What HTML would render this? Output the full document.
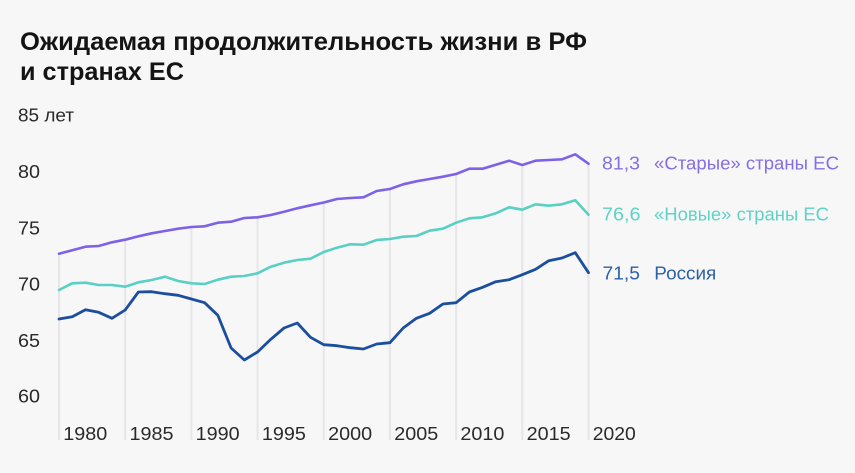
<!DOCTYPE html>
<html>
<head>
<meta charset="utf-8">
<style>
html,body{margin:0;padding:0;background:#f7f7f8;}
svg{display:block;}
text{font-family:"Liberation Sans","DejaVu Sans",sans-serif;}
</style>
</head>
<body>
<svg width="855" height="473" viewBox="0 0 855 473" xmlns="http://www.w3.org/2000/svg">
<rect x="0" y="0" width="855" height="473" fill="#f7f7f8"/>
<!-- title -->
<text x="20" y="50" font-size="25" font-weight="bold" fill="#141414" textLength="567" lengthAdjust="spacingAndGlyphs">Ожидаемая продолжительность жизни в РФ</text>
<text x="20" y="80" font-size="25" font-weight="bold" fill="#141414" textLength="164" lengthAdjust="spacingAndGlyphs">и странах ЕС</text>

<!-- y tick labels -->
<g font-size="18" fill="#2a2a2a">
<text x="18" y="121.5" textLength="56" lengthAdjust="spacingAndGlyphs">85 лет</text>
<text x="18" y="178" textLength="22" lengthAdjust="spacingAndGlyphs">80</text>
<text x="18" y="234.5" textLength="22" lengthAdjust="spacingAndGlyphs">75</text>
<text x="18" y="290.7" textLength="22" lengthAdjust="spacingAndGlyphs">70</text>
<text x="18" y="346.8" textLength="22" lengthAdjust="spacingAndGlyphs">65</text>
<text x="18" y="402.7" textLength="22" lengthAdjust="spacingAndGlyphs">60</text>
</g>

<!-- gridlines -->
<g stroke="#e6e6e8" stroke-width="2">
<line x1="59" y1="254" x2="59" y2="440"/>
<line x1="125.19" y1="240" x2="125.19" y2="440"/>
<line x1="191.38" y1="227" x2="191.38" y2="440"/>
<line x1="257.56" y1="217.5" x2="257.56" y2="440"/>
<line x1="323.75" y1="202.5" x2="323.75" y2="440"/>
<line x1="389.94" y1="189" x2="389.94" y2="440"/>
<line x1="456.13" y1="174" x2="456.13" y2="440"/>
<line x1="522.31" y1="165" x2="522.31" y2="440"/>
<line x1="588.5" y1="164" x2="588.5" y2="440"/>
</g>

<!-- x labels -->
<g font-size="18" fill="#2a2a2a">
<text x="63.3" y="440" textLength="44" lengthAdjust="spacingAndGlyphs">1980</text>
<text x="129.5" y="440" textLength="44" lengthAdjust="spacingAndGlyphs">1985</text>
<text x="195.7" y="440" textLength="44" lengthAdjust="spacingAndGlyphs">1990</text>
<text x="261.9" y="440" textLength="44" lengthAdjust="spacingAndGlyphs">1995</text>
<text x="328.1" y="440" textLength="44" lengthAdjust="spacingAndGlyphs">2000</text>
<text x="394.3" y="440" textLength="44" lengthAdjust="spacingAndGlyphs">2005</text>
<text x="460.4" y="440" textLength="44" lengthAdjust="spacingAndGlyphs">2010</text>
<text x="526.6" y="440" textLength="44" lengthAdjust="spacingAndGlyphs">2015</text>
<text x="592.8" y="440" textLength="43" lengthAdjust="spacingAndGlyphs">2020</text>
</g>

<!-- series -->
<g fill="none" stroke-width="2.6" stroke-linejoin="round" stroke-linecap="round">
<polyline stroke="#7d62e8" points="59,253.7 72.24,250.3 85.48,246.7 98.71,246 111.95,242.3 125.19,239.7 138.43,236.3 151.66,233.3 164.9,231 178.14,228.7 191.38,227 204.61,226.3 217.85,222.7 231.09,221.7 244.33,218 257.56,217.3 270.8,215 284.04,211.7 297.28,208.3 310.51,205.3 323.75,202.5 336.99,199 350.23,198 363.46,197.3 376.7,191 389.94,189 403.18,184.3 416.41,181.3 429.65,179 442.89,176.7 456.13,174 469.36,168.7 482.6,168.7 495.84,164.7 509.08,160.7 522.31,165 535.55,160.7 548.79,160 562.03,159.3 575.26,154.3 588.5,163.7"/>
<polyline stroke="#58d0c3" points="59,290 72.24,283.3 85.48,282.7 98.71,285 111.95,285 125.19,286.7 138.43,282.3 151.66,280 164.9,276.7 178.14,281 191.38,283.3 204.61,284 217.85,279.7 231.09,276.7 244.33,276 257.56,273.3 270.8,266.7 284.04,262.7 297.28,260 310.51,258.7 323.75,252 336.99,247.7 350.23,244.3 363.46,244.7 376.7,240 389.94,239 403.18,236.7 416.41,236 429.65,230.7 442.89,228.7 456.13,222.7 469.36,218.3 482.6,217.3 495.84,213.3 509.08,207.3 522.31,209.7 535.55,204.3 548.79,205.7 562.03,204.3 575.26,200.3 588.5,214.7"/>
<polyline stroke="#1b4f9e" stroke-width="2.8" points="59,319 72.24,316.7 85.48,309.7 98.71,312.3 111.95,318.3 125.19,310 138.43,292 151.66,291.7 164.9,293.7 178.14,295.3 191.38,299 204.61,302.7 217.85,315.3 231.09,348 244.33,360 257.56,352 270.8,339.3 284.04,328 297.28,323 310.51,337.3 323.75,344.7 336.99,345.7 350.23,347.7 363.46,349 376.7,344 389.94,342.7 403.18,328 416.41,318.3 429.65,313.3 442.89,304 456.13,302.7 469.36,292 482.6,287.3 495.84,281.7 509.08,279.7 522.31,274.7 535.55,269.3 548.79,260.7 562.03,258 575.26,252.7 588.5,272.7"/>
</g>

<!-- right labels -->
<g font-size="18">
<text x="602" y="169.3" fill="#866fe2" textLength="38" lengthAdjust="spacingAndGlyphs">81,3</text>
<text x="654" y="169.3" fill="#866fe2" textLength="185" lengthAdjust="spacingAndGlyphs">«Старые» страны ЕС</text>
<text x="602" y="220.7" fill="#5dd3c6" textLength="38.5" lengthAdjust="spacingAndGlyphs">76,6</text>
<text x="654" y="220.7" fill="#5dd3c6" textLength="175" lengthAdjust="spacingAndGlyphs">«Новые» страны ЕС</text>
<text x="602.5" y="279.3" fill="#2b5fa6" textLength="37.5" lengthAdjust="spacingAndGlyphs">71,5</text>
<text x="654.3" y="279.3" fill="#2b5fa6" textLength="62" lengthAdjust="spacingAndGlyphs">Россия</text>
</g>
</svg>
</body>
</html>
